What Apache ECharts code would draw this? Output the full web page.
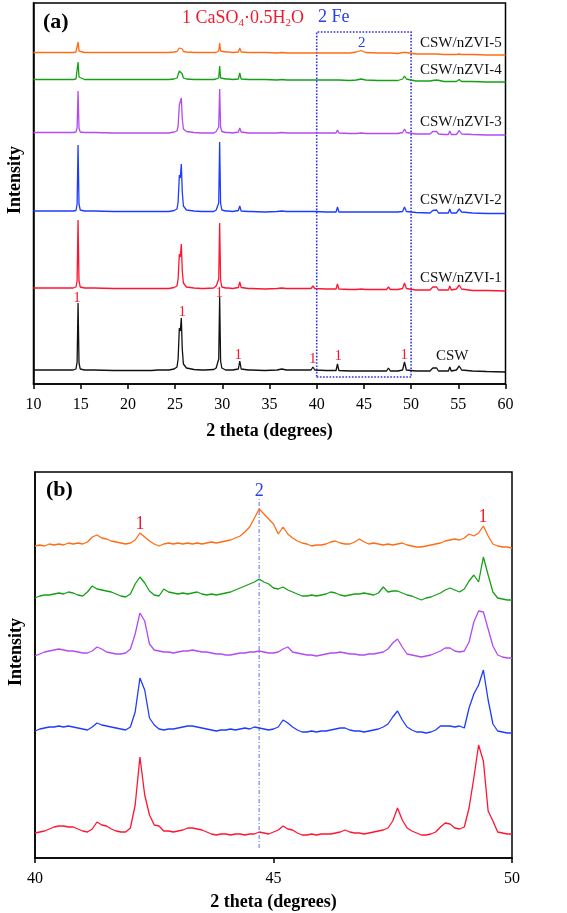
<!DOCTYPE html>
<html><head><meta charset="utf-8">
<script src="https://cdn.jsdelivr.net/npm/echarts/dist/echarts.min.js"></script>
<style>html,body{margin:0;padding:0;background:#fff}#c{width:567px;height:913px}</style>
</head><body><div id="c"></div>
<script>
// ---------- Panel (a): 2 theta 10-60 ----------
const seriesNamesA = ['CSW', 'CSW/nZVI-1', 'CSW/nZVI-2', 'CSW/nZVI-3', 'CSW/nZVI-4', 'CSW/nZVI-5'];
const seriesColors = ['#111111', '#ff1530', '#1e3cff', '#b24bf2', '#16a016', '#ff6c14'];
const thetaA = [10, 12, 14.2, 14.5, 14.62, 14.72, 14.82, 14.95, 15.4, 16.1,
  16.25, 16.4, 18.5, 20.1, 20.25, 20.4, 22.5, 23.15, 23.3, 23.45,
  24.05, 24.2, 24.35, 24.9, 25.2, 25.32, 25.45, 25.55, 25.66, 25.76,
  25.88, 26.2, 27, 27.8, 27.95, 28.1, 29.1, 29.35, 29.5, 29.62,
  29.72, 29.82, 29.95, 30.35, 30.5, 30.65, 31.1, 31.7, 31.85, 32.0,
  32.75, 32.9, 33.05, 34.5, 35.8, 36.3, 36.8, 38.0, 39.4, 39.6,
  39.8, 41.0, 42.05, 42.2, 42.35, 43.5, 44.2, 44.7, 45.2, 45.3,
  45.4, 46.5, 47.4, 47.6, 47.8, 48.6, 49.1, 49.3, 49.5, 50.5,
  52.0, 52.3, 52.5, 52.7, 52.9, 53.5, 53.95, 54.1, 54.25, 54.8,
  55.1, 55.35, 56.5, 58.0, 60];
const cswA = [1, 1, 1, 2, 9, 68, 8, 2, 1, 1,
  1, 1, 0.5, 0.5, 1, 0.5, 0.5, 1, 1, 1,
  1, 1, 1, 2, 4, 12, 43, 40, 53, 22,
  7, 3, 1.5, 1, 1.5, 1, 1.5, 3, 4, 12,
  74, 10, 3, 1, 1, 1, 1, 2, 10, 2,
  1, 3, 1, 0.5, 1, 2, 1, 1, 1, 4,
  1, 0.5, 0.5, 7, 0.5, 0, 0, 0, 0, 1,
  0, 0, 0, 3, 0, 0, 1, 9, 1, 0,
  0, 3, 1, 3, 0, 0, 0, 4, 0, 1,
  5, 1, 0, -0.5, -1];
const nzvi1A = [1, 1, 1, 2, 8, 69, 8, 2, 1, 1,
  1, 1, 0.5, 0.5, 1, 0.5, 0.5, 0.5, 0.5, 0.5,
  0.5, 0.5, 0.5, 1.5, 3, 10, 35, 32, 45, 18,
  6, 2, 1, 0.5, 1, 0.5, 1, 3, 4, 10,
  66, 9, 2, 1, 1, 1, 0.5, 1.5, 7, 1.5,
  0.5, 2, 0.5, 0, 0.5, 1, 0.5, 0.5, 0.5, 3,
  0.5, 0, 0, 5, 0, -0.5, -0.5, 0, -0.5, 0.5,
  -0.5, -0.5, -0.5, 2, -0.5, -0.5, 0.5, 6, 0.5, -1,
  -1, 2, 0.5, 2, -1, -1, -1, 3, -1, 0,
  4, 0, -1.5, -1.5, -2];
const nzvi2A = [1, 1, 1, 1.5, 8, 67, 8, 2, 1, 1,
  1, 1, 0.5, 0.5, 1, 0.5, 0.5, 0.5, 0.5, 0.5,
  0.5, 0.5, 0.5, 1.5, 3, 10, 37, 34, 48, 20,
  6, 2, 1, 0.5, 1, 0.5, 0.5, 2, 3, 9,
  70, 9, 2, 1, 1, 1, 0.5, 1.5, 6, 1,
  0.5, 1.5, 0.5, 0, 0.5, 1, 0.5, 0.5, 0.5, 2,
  0.5, 0, 0, 5, 0, 0, 0, 0, 0, 0.5,
  0, 0, 0, 2, 0, 0, 0.5, 5, 0.5, -0.5,
  -1, 1.5, 1, 2, -1, -1, -1, 3, -1, -1,
  3, 0, -1, -1.5, -1.5];
const nzvi3A = [0.5, 0.5, 0.5, 1, 5, 42, 5, 1, 0.5, 0.5,
  0.5, 0.5, 0, 0, 0.5, 0, 0, 0, 0, 0,
  0, 0, 0, 1, 2, 7, 28, 26, 35, 14,
  4, 1.5, 0.5, 0, 0.5, 0, 0, 1.5, 2, 6,
  44, 6, 1.5, 0.5, 0.5, 0.5, 0, 1, 5, 1,
  0, 1.5, 0, 0, 0, 0.5, 0, 0, 0, 2,
  0, 0, 0, 3, 0, -0.5, -0.5, 0, -0.5, 0.5,
  -0.5, -0.5, -0.5, 1, -0.5, -0.5, 0.5, 4, 0.5, -1,
  -1, 1.5, 1, 1.5, -1, -1.5, -1.5, 2, -1.5, -1.5,
  2.5, -1, -1.5, -2, -2];
const nzvi4A = [0.5, 0.5, 0.5, 1, 3, 18, 3, 1, 0.5, 0.5,
  1.5, 0.5, 0.5, 0.5, 2, 0.5, 0.5, 0.5, 1.5, 0.5,
  0.5, 1.5, 0.5, 1, 2, 4, 9, 8, 11, 6,
  2, 1, 0.5, 0.5, 2, 0.5, 0.5, 1, 1, 2,
  14, 2, 1, 1, 3, 1, 0.5, 1, 7, 1,
  0.5, 1.5, 0.5, 0.5, 0, 0.5, 0, 0, 0, 0.5,
  0, 0, 0, 1, 0, -0.5, 0, 1, 0, 0,
  -0.5, -0.5, -0.5, 0.5, -0.5, -0.5, 1, 4, 1, -1,
  -1, -0.5, -1, 0, -1, -1.5, -1.5, 0.5, -1.5, -1.5,
  0.5, -1.5, -1.5, -2, -2];
const nzvi5A = [0.5, 0.5, 0.5, 1, 2, 11, 2, 1, 0.5, 0.5,
  1.5, 0.5, 0.5, 0.5, 2, 0.5, 0.5, 0.5, 1, 0.5,
  0.5, 1, 0.5, 1, 1.5, 3, 5, 5, 6, 4,
  1.5, 1, 0.5, 0.5, 1, 0.5, 0.5, 0.5, 1, 2,
  10, 2, 1, 1, 3, 1, 0.5, 1, 5, 1,
  0.5, 1, 0.5, 0.5, 0, 0.5, 0, 0, 0, 0.5,
  0, 0, 0, 0.5, 0, 0, 1, 2.5, 0.5, 0.5,
  0, 0, 0, 0, 0, -0.5, 0.5, 1.5, 0.5, -1,
  -1, -1, -1, -1, -1, -1.5, -1.5, -1, -1.5, -1.5,
  -1, -1.5, -1.5, -2, -2];
const offsetsA = [13, 95, 172, 251, 304, 331];
// peak marker "1" positions [2theta, intensity]
const peakMarksA = [[14.6, 86], [25.76, 72], [29.68, 91], [31.7, 29], [39.57, 25], [42.29, 28], [49.28, 29]];
const feBoxA = [[40, 7], [50, 352]];
const feMarkA = [44.77, 341];

// ---------- Panel (b): 2 theta 40-50 ----------
const thetaB = [40.0, 40.1, 40.2, 40.3, 40.4, 40.5, 40.6, 40.7, 40.8, 40.9,
  41.0, 41.1, 41.2, 41.3, 41.4, 41.5, 41.6, 41.7, 41.8, 41.9,
  42.0, 42.1, 42.2, 42.3, 42.4, 42.5, 42.6, 42.7, 42.8, 42.9,
  43.0, 43.1, 43.2, 43.3, 43.4, 43.5, 43.6, 43.7, 43.8, 43.9,
  44.0, 44.1, 44.2, 44.3, 44.4, 44.5, 44.6, 44.7, 44.8, 44.9,
  45.0, 45.1, 45.2, 45.3, 45.4, 45.5, 45.6, 45.7, 45.8, 45.9,
  46.0, 46.1, 46.2, 46.3, 46.4, 46.5, 46.6, 46.7, 46.8, 46.9,
  47.0, 47.1, 47.2, 47.3, 47.4, 47.5, 47.6, 47.7, 47.8, 47.9,
  48.0, 48.1, 48.2, 48.3, 48.4, 48.5, 48.6, 48.7, 48.8, 48.9,
  49.0, 49.1, 49.2, 49.3, 49.4, 49.5, 49.6, 49.7, 49.8, 49.9,
  50.0];
const nzvi1B = [0, 1, 2, 4, 6, 7, 7, 6, 6, 4,
  2, 1, 4, 11, 8, 7, 4, 2, 1, 1,
  5, 28, 76, 38, 18, 8, 7, 2, 2, 1,
  2, 3, 5, 5, 4, 3, 1, -1, -2, -1,
  -1, -2, -1, -1, -2, -1, -1, 1, 0, -1,
  1, 3, 7, 4, 3, 0, -2, -2, -1, -2,
  -1, -1, -1, 0, 1, 3, 1, 0, 0, -1,
  0, 1, 2, 3, 5, 12, 25, 13, 5, 2,
  0, -2, -2, -1, 1, 6, 10, 9, 5, 4,
  6, 25, 55, 88, 72, 22, 12, 1, 0, -1,
  -1];
const nzvi2B = [-1, 1, 2, 3, 3, 4, 3, 4, 3, 2,
  1, 0, 3, 7, 5, 4, 3, 2, 1, 0,
  3, 18, 52, 40, 12, 5, 1, 0, 1, 1,
  2, 3, 4, 4, 3, 2, 1, 0, -1, 0,
  0, 1, 0, 1, 2, 1, 3, 2, 1, 0,
  1, 3, 10, 7, 3, 0, -2, -2, -1, -2,
  -1, -1, 0, 1, 2, 2, 0, -1, -1, -2,
  -1, 0, 1, 3, 6, 13, 19, 10, 3, 0,
  -2, -2, -3, -2, 0, 4, 4, 4, 3, 4,
  2, 22, 36, 45, 60, 30, 6, -1, -2, -3,
  -3];
const nzvi3B = [-2, 0, 2, 3, 4, 5, 4, 3, 3, 2,
  1, 1, 3, 7, 5, 2, 1, 0, 0, 1,
  5, 20, 41, 33, 10, 4, 3, 2, 2, 1,
  2, 3, 3, 4, 3, 2, 2, 1, 0, 0,
  -1, -1, 0, 1, 1, 2, 2, 3, 2, 1,
  1, 2, 5, 7, 2, 1, 0, -1, -1, -2,
  -1, 0, 1, 1, 2, 1, 0, 0, -1, -1,
  0, 0, 1, 2, 5, 11, 15, 7, 0, -1,
  -2, -3, -2, -1, 1, 3, 6, 6, 3, 2,
  3, 12, 32, 43, 42, 25, 8, -1, -3, -4,
  -4];
const nzvi4B = [-1, 1, 2, 2, 3, 4, 3, 5, 4, 2,
  1, 5, 11, 8, 7, 6, 5, 3, 1, 0,
  3, 13, 20, 14, 6, 2, 1, 8, 5, 4,
  3, 4, 3, 4, 5, 3, 2, 3, 2, 3,
  4, 5, 7, 9, 11, 13, 15, 18, 15, 13,
  9, 8, 10, 7, 5, 3, 1, 1, 2, 1,
  2, 3, 5, 4, 2, 1, 2, 3, 3, 4,
  3, 2, 4, 10, 5, 6, 6, 4, 2, 1,
  -1, -3, -1, 0, 2, 4, 7, 9, 7, 5,
  8, 16, 22, 15, 40, 22, 5, -1, -2, -3,
  -3];
const nzvi5B = [0, 1, 0, 2, 1, 2, 1, 3, 2, 3,
  2, 4, 9, 11, 8, 7, 5, 4, 3, 2,
  3, 6, 13, 9, 5, 2, 0, 2, 3, 2,
  3, 2, 3, 2, 3, 2, 3, 4, 3, 4,
  5, 6, 8, 10, 14, 19, 28, 37, 32, 27,
  22, 12, 19, 12, 8, 5, 3, 2, 0, 1,
  1, 2, 4, 5, 3, 2, 2, 4, 7, 4,
  2, 3, 2, 1, 2, 1, 2, 3, 1, 0,
  -1, -1, 0, 1, 2, 3, 5, 6, 7, 6,
  8, 12, 10, 13, 20, 10, 2, 0, -1, -1,
  -2];
const offsetsB = [25, 128, 204, 261, 312];
const peakMarksB = [[42.2, 334], [49.39, 341]];
const feLineB = [[44.7, 10], [44.7, 360]];
const feMarkB = [44.7, 367];

// ---------- build ----------
const FONT = '"Liberation Serif", "Times New Roman", serif';
const seriesA = [cswA, nzvi1A, nzvi2A, nzvi3A, nzvi4A, nzvi5A];
const seriesB = [nzvi1B, nzvi2B, nzvi3B, nzvi4B, nzvi5B];

function axisX(gi, min, max, gap) {
  return {
    gridIndex: gi, type: 'value', min: min, max: max, interval: 5,
    axisLine: { onZero: false, lineStyle: { color: '#000', width: 1.5 } },
    axisTick: { length: 5, lineStyle: { color: '#000', width: 1.5 } },
    axisLabel: { color: '#000', fontFamily: FONT, fontSize: 16, margin: 13 },
    splitLine: { show: false },
    name: '2 theta (degrees)', nameLocation: 'middle', nameGap: gap,
    nameTextStyle: { color: '#000', fontFamily: FONT, fontSize: 18, fontWeight: 'bold' }
  };
}
function axisY(gi, max) {
  return {
    gridIndex: gi, type: 'value', min: 0, max: max,
    axisLine: { show: true, lineStyle: { color: '#000', width: 1.5 } },
    axisTick: { show: false }, axisLabel: { show: false }, splitLine: { show: false }
  };
}

const series = [];
seriesA.forEach((arr, k) => {
  const s = {
    name: seriesNamesA[k], type: 'line', xAxisIndex: 0, yAxisIndex: 0,
    symbol: 'none', smooth: false, animation: false,
    lineStyle: { color: seriesColors[k], width: 1.3 },
    data: thetaA.map((t, i) => [t, arr[i] + offsetsA[k]])
  };
  if (k === 0) {
    s.markArea = {
      silent: true,
      itemStyle: { color: 'rgba(0,0,0,0)', borderColor: '#2a30e6', borderWidth: 1.6, borderType: 'dotted' },
      data: [[{ coord: feBoxA[0] }, { coord: feBoxA[1] }]]
    };
  }
  series.push(s);
});
seriesB.forEach((arr, k) => {
  series.push({
    name: seriesNamesA[k + 1] + ' (b)', type: 'line', xAxisIndex: 1, yAxisIndex: 1,
    symbol: 'none', smooth: false, animation: false,
    lineStyle: { color: seriesColors[k + 1], width: 1.3 },
    data: thetaB.map((t, i) => [t, arr[i] + offsetsB[k]])
  });
});
series.push({
  type: 'line', xAxisIndex: 1, yAxisIndex: 1, symbol: 'none', animation: false, z: 1,
  lineStyle: { color: '#8f9ff0', width: 1.5, type: [4, 2, 1, 2] },
  data: feLineB
});

const option = {
  animation: false,
  backgroundColor: '#fff',
  grid: [
    { left: 33.5, top: 3, width: 472, height: 381, show: true, borderColor: '#000', borderWidth: 1.5, backgroundColor: 'transparent' },
    { left: 35, top: 472, width: 477, height: 386, show: true, borderColor: '#000', borderWidth: 1.5, backgroundColor: 'transparent' }
  ],
  xAxis: [axisX(0, 10, 60, 38), axisX(1, 40, 50, 35)],
  yAxis: [axisY(0, 381), axisY(1, 386)],
  series: series
};

const chart = echarts.init(document.getElementById('c'), null, { renderer: 'canvas' });
chart.setOption(option);

const px = (gi, p) => chart.convertToPixel({ gridIndex: gi }, p);
const RED = '#ef1a30', BLUE = '#2a40e8';
const g = [];
function txt(x, y, text, font, fill, align, extra) {
  const e = { type: 'text', x: x, y: y, z: 100,
    style: Object.assign({ text: text, font: font, fill: fill, textAlign: align || 'left', textVerticalAlign: 'middle', align: align || 'left', verticalAlign: 'middle' }, extra || {}) };
  g.push(e);
  return e;
}
// panel labels
txt(43, 22, '(a)', 'bold 22px ' + FONT, '#000');
txt(46, 490, '(b)', 'bold 22px ' + FONT, '#000');
// phase legend
txt(182, 18, '1 CaSO{s|4}·0.5H{s|2}O', '18px ' + FONT, RED, 'left', {
  lineHeight: 22,
  rich: { s: { fontSize: 11, fontFamily: 'Liberation Serif', fill: RED, verticalAlign: 'bottom', lineHeight: 11 } }
});
txt(318, 17, '2 Fe', '18px ' + FONT, BLUE);
// series names (a)
const nameY = [356, 278, 200, 122, 70, 43];
seriesNamesA.forEach((n, k) => {
  txt(k === 0 ? 436 : 420, nameY[k], n, '15px ' + FONT, '#111');
});
// Intensity axis names
txt(15, 180, 'Intensity', 'bold 18px ' + FONT, '#000', 'center').rotation = Math.PI / 2;
txt(16, 652, 'Intensity', 'bold 18px ' + FONT, '#000', 'center').rotation = Math.PI / 2;
// peak markers
peakMarksA.forEach(p => { const q = px(0, p); txt(q[0], q[1], '1', '15px ' + FONT, RED, 'center'); });
{ const q = px(0, feMarkA); txt(q[0], q[1], '2', '15px ' + FONT, BLUE, 'center'); }
peakMarksB.forEach(p => { const q = px(1, p); txt(q[0], q[1], '1', '18px ' + FONT, RED, 'center'); });
{ const q = px(1, feMarkB); txt(q[0], q[1], '2', '18px ' + FONT, BLUE, 'center'); }

chart.setOption({ graphic: { elements: g } });
</script>
</body></html>
